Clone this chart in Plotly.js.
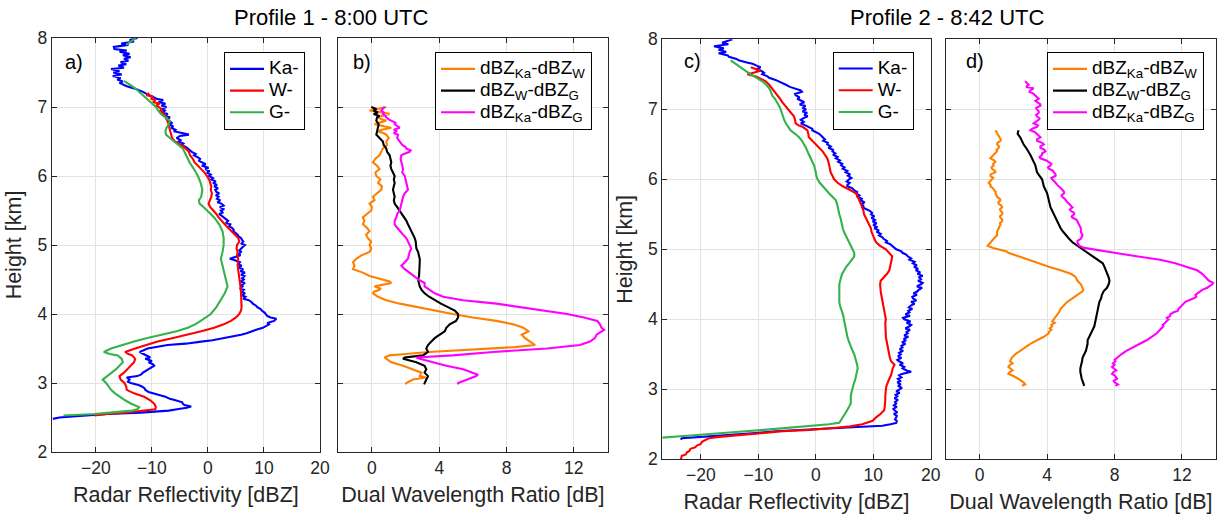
<!DOCTYPE html>
<html>
<head>
<meta charset="utf-8">
<script src="https://cdn.plot.ly/plotly-3.0.1.min.js"></script>
<style>html,body{margin:0;padding:0;background:#fff;}#chart{width:1225px;height:518px;}</style>
</head>
<body>
<div id="chart"></div>
<script>
// ---------------- DATA ----------------
// Profile 1 - 8:00 UTC, panel a) radar reflectivity [dBZ] vs height [km]
const hKa1 = [8.00,7.97,7.95,7.92,7.90,7.87,7.84,7.82,7.80,7.77,7.75,7.72,7.70,7.67,7.65,7.62,7.60,7.57,7.55,7.52,7.50,7.47,7.45,7.42,7.40,7.37,7.35,7.32,7.30,7.27,7.25,7.22,7.20,7.17,7.15,7.12,7.10,7.07,7.05,7.02,7.00,6.97,6.95,6.92,6.90,6.87,6.85,6.82,6.80,6.77,6.75,6.72,6.70,6.67,6.65,6.62,6.60,6.58,6.55,6.52,6.50,6.47,6.45,6.42,6.40,6.37,6.35,6.32,6.30,6.27,6.25,6.22,6.20,6.17,6.15,6.12,6.10,6.07,6.05,6.02,6.00,5.97,5.95,5.92,5.90,5.87,5.85,5.82,5.80,5.77,5.75,5.72,5.70,5.67,5.65,5.62,5.60,5.57,5.55,5.52,5.50,5.47,5.45,5.42,5.40,5.37,5.35,5.32,5.30,5.27,5.25,5.22,5.20,5.17,5.15,5.12,5.10,5.07,5.05,5.02,5.00,4.97,4.95,4.92,4.90,4.87,4.85,4.82,4.80,4.78,4.75,4.72,4.70,4.67,4.65,4.62,4.60,4.57,4.55,4.52,4.50,4.47,4.45,4.42,4.40,4.37,4.35,4.32,4.30,4.27,4.25,4.22,4.20,4.17,4.15,4.12,4.10,4.07,4.05,4.02,4.00,3.97,3.95,3.93,3.90,3.87,3.85,3.82,3.80,3.77,3.75,3.72,3.70,3.67,3.65,3.62,3.60,3.57,3.55,3.52,3.50,3.47,3.45,3.42,3.40,3.37,3.35,3.32,3.30,3.27,3.25,3.22,3.20,3.17,3.15,3.12,3.10,3.08,3.05,3.02,3.00,2.97,2.95,2.92,2.90,2.87,2.85,2.82,2.80,2.77,2.75,2.72,2.70,2.68,2.66,2.64,2.62,2.60,2.57,2.55,2.52,2.50,2.48];
const ka1  = [-12.6,-14.0,-13.2,-15.5,-14.2,-16.8,-16.7,-14.5,-15.8,-14.0,-15.2,-13.8,-15.0,-14.2,-15.6,-14.6,-16.0,-15.0,-17.3,-15.8,-16.9,-15.4,-17.0,-15.6,-16.2,-15.2,-15.8,-14.9,-14.5,-13.2,-12.5,-11.6,-11.2,-10.3,-9.9,-9.2,-8.0,-8.8,-7.6,-8.3,-7.4,-8.4,-7.7,-8.0,-7.2,-7.6,-6.8,-7.3,-6.9,-6.5,-7.0,-6.2,-6.6,-5.8,-6.1,-4.2,-3.4,-5.0,-5.6,-4.9,-5.2,-4.4,-4.7,-3.9,-3.6,-3.2,-2.9,-2.2,-2.5,-1.8,-1.4,-1.6,-1.0,-0.4,-1.1,0.1,-0.5,0.3,-0.2,0.5,0.2,0.9,0.6,1.4,0.9,1.6,1.1,1.8,1.3,1.5,2.0,1.4,1.9,1.6,2.2,1.7,2.4,2.8,2.1,2.9,2.3,2.6,2.0,2.5,2.7,3.3,3.6,3.2,4.0,3.8,4.3,4.6,4.5,5.0,5.3,5.5,5.9,6.1,6.3,6.0,6.6,6.2,5.9,5.6,5.9,5.5,5.8,4.7,3.9,4.8,5.7,5.4,6.0,5.5,6.3,5.8,6.6,5.9,6.5,6.1,6.4,5.8,6.6,6.0,6.2,5.7,6.4,6.1,6.6,6.0,6.7,6.3,7.3,7.8,8.0,8.6,8.8,9.4,9.6,10.1,10.3,10.6,11.2,12.2,11.8,10.6,10.9,10.2,9.8,8.6,8.0,6.9,5.9,4.0,2.4,0.8,-1.2,-4.0,-7.2,-9.4,-10.8,-11.6,-12.2,-11.5,-11.0,-10.3,-11.2,-10.0,-10.6,-9.8,-9.6,-10.2,-10.8,-11.2,-11.6,-12.0,-12.6,-14.5,-14.0,-14.3,-13.8,-12.4,-11.8,-11.3,-11.2,-10.6,-9.5,-8.4,-7.6,-6.8,-5.8,-4.6,-4.5,-4.2,-3.0,-3.8,-5.5,-7.0,-12.0,-18.0,-23.5,-26.5,-27.7];
const hW1  = [7.20,7.17,7.15,7.12,7.10,7.07,7.05,7.02,7.00,6.97,6.95,6.90,6.85,6.80,6.75,6.70,6.65,6.60,6.55,6.50,6.45,6.40,6.35,6.30,6.25,6.20,6.15,6.10,6.05,6.00,5.95,5.90,5.85,5.80,5.75,5.70,5.65,5.60,5.55,5.50,5.45,5.40,5.35,5.30,5.25,5.20,5.15,5.10,5.05,5.00,4.95,4.90,4.85,4.80,4.70,4.60,4.50,4.40,4.30,4.20,4.10,4.05,4.00,3.95,3.90,3.85,3.80,3.75,3.70,3.65,3.60,3.55,3.50,3.45,3.42,3.40,3.35,3.30,3.25,3.20,3.15,3.10,3.05,3.00,2.95,2.90,2.85,2.80,2.75,2.70,2.65,2.62,2.60,2.57,2.55,2.53];
const w1   = [-10.5,-11.0,-9.8,-10.2,-9.4,-9.8,-8.6,-9.3,-8.8,-8.3,-8.5,-7.9,-7.5,-7.2,-7.0,-6.9,-6.7,-6.6,-6.4,-5.9,-4.8,-4.0,-3.4,-3.2,-2.7,-2.4,-1.8,-1.2,-0.6,-0.2,0.2,0.4,0.6,0.5,0.7,0.6,0.4,0.1,0.4,1.0,1.5,1.9,2.4,3.0,3.6,4.2,4.8,5.4,5.6,5.2,5.1,5.3,5.2,5.4,5.3,5.5,5.6,5.8,5.9,6.0,6.0,5.9,5.6,5.0,4.1,2.8,1.1,-1.2,-3.6,-6.4,-9.0,-11.2,-13.0,-14.8,-14.2,-13.5,-13.0,-13.2,-13.8,-14.3,-15.0,-15.8,-15.6,-14.9,-14.6,-14.5,-13.2,-11.4,-10.3,-9.6,-9.3,-9.4,-11.5,-15.0,-18.0,-20.3];
// G-band profile has no valid data between about 7.9 and 7.4 km (gap = null)
const hG1  = [8.00,7.95,7.90,7.60,7.38,7.35,7.30,7.25,7.20,7.15,7.10,7.05,7.00,6.95,6.90,6.85,6.80,6.75,6.70,6.65,6.60,6.55,6.50,6.45,6.40,6.30,6.20,6.10,6.00,5.90,5.80,5.75,5.70,5.65,5.60,5.55,5.50,5.45,5.40,5.30,5.20,5.10,5.00,4.90,4.80,4.70,4.60,4.50,4.40,4.30,4.20,4.10,4.00,3.95,3.90,3.85,3.80,3.75,3.70,3.65,3.60,3.55,3.50,3.45,3.42,3.40,3.35,3.30,3.25,3.20,3.15,3.10,3.05,3.00,2.95,2.90,2.85,2.80,2.75,2.70,2.65,2.62,2.60,2.57,2.55,2.53];
const g1   = [-12.9,-13.8,-14.6,null,-15.0,-14.4,-13.5,-12.7,-12.0,-11.4,-10.8,-10.0,-9.3,-8.9,-8.4,-7.6,-6.8,-7.0,-7.4,-7.6,-7.5,-6.8,-6.0,-5.2,-4.5,-3.9,-3.3,-2.5,-1.8,-1.3,-1.0,-1.1,-1.2,-1.6,-1.5,-0.8,-0.1,0.5,1.1,2.0,2.6,2.8,2.8,2.6,2.3,2.6,2.9,3.2,3.5,3.0,2.3,1.5,0.5,-0.3,-1.3,-2.3,-3.6,-5.6,-8.4,-11.0,-13.2,-15.5,-17.3,-18.6,-17.5,-16.1,-15.4,-15.2,-15.8,-16.4,-17.2,-17.9,-18.8,-18.2,-17.8,-17.3,-16.6,-15.8,-14.8,-13.7,-12.3,-12.6,-13.5,-17.5,-20.3,-25.8];

// Profile 1, panel b) dual wavelength ratio [dB] vs height [km]
const hKaW1 = [7.00,6.97,6.95,6.92,6.90,6.87,6.85,6.82,6.80,6.77,6.75,6.72,6.70,6.67,6.65,6.62,6.60,6.55,6.50,6.45,6.40,6.35,6.30,6.25,6.20,6.15,6.10,6.05,6.00,5.95,5.90,5.85,5.80,5.75,5.70,5.65,5.60,5.55,5.50,5.45,5.40,5.35,5.30,5.25,5.20,5.15,5.10,5.05,5.00,4.95,4.90,4.85,4.80,4.75,4.70,4.65,4.62,4.60,4.55,4.50,4.47,4.45,4.42,4.40,4.37,4.35,4.32,4.30,4.25,4.20,4.15,4.10,4.05,4.00,3.95,3.90,3.85,3.80,3.75,3.70,3.65,3.60,3.55,3.52,3.50,3.47,3.45,3.42,3.40,3.37,3.35,3.30,3.25,3.20,3.15,3.10,3.08,3.05,3.02,3.00,2.98];
const kaW1  = [0.85,0.3,-0.14,0.6,1.05,0.6,0.36,0.6,0.85,0.4,0.16,0.7,1.15,0.6,0.36,0.7,0.85,1.0,0.85,0.9,0.65,0.55,0.45,0.2,0.06,0.3,0.45,0.2,0.26,0.5,0.36,0.6,0.55,0.3,0.06,0.15,-0.14,0.0,-0.04,-0.3,-0.54,-0.45,-0.54,-0.3,-0.14,-0.35,-0.24,-0.05,-0.14,-0.04,-0.14,-0.63,-0.93,-1.13,-1.03,-1.13,-0.8,-0.54,-0.14,0.65,1.05,1.15,0.6,0.16,0.5,0.45,0.1,0.06,0.36,0.85,1.65,2.64,3.63,4.8,6.0,7.4,8.4,9.0,9.3,8.9,9.1,9.4,9.7,8.5,6.8,5.0,3.4,2.0,1.05,0.75,0.85,1.15,1.85,2.44,2.94,2.84,3.2,2.44,2.2,2.04,2.0];
const hWG1  = [7.00,6.97,6.95,6.92,6.90,6.87,6.85,6.80,6.75,6.70,6.65,6.60,6.55,6.50,6.45,6.40,6.35,6.30,6.25,6.20,6.15,6.10,6.05,6.00,5.95,5.90,5.85,5.80,5.75,5.70,5.65,5.60,5.55,5.50,5.45,5.40,5.35,5.30,5.25,5.20,5.15,5.10,5.05,5.00,4.95,4.90,4.85,4.80,4.75,4.70,4.65,4.60,4.55,4.50,4.45,4.40,4.35,4.30,4.25,4.20,4.15,4.10,4.05,4.00,3.95,3.90,3.85,3.80,3.75,3.70,3.65,3.60,3.55,3.50,3.45,3.40,3.37,3.35,3.30,3.25,3.20,3.15,3.10,3.05,3.00,2.98];
const wG1   = [-0.04,0.26,0.1,0.35,0.1,0.45,0.3,0.26,0.4,0.36,0.3,0.26,0.45,0.65,0.7,0.85,0.9,1.05,1.1,1.15,1.1,1.15,1.25,1.35,1.3,1.35,1.3,1.25,1.3,1.35,1.3,1.35,1.5,1.65,1.8,1.95,2.05,2.14,2.25,2.34,2.45,2.54,2.6,2.64,2.64,2.74,2.8,2.84,2.84,2.84,2.8,2.84,2.8,2.74,2.8,2.84,2.95,3.13,3.4,3.73,4.1,4.52,4.92,5.12,5.12,5.0,4.62,4.42,4.33,4.03,3.73,3.53,3.33,3.23,3.33,3.04,1.94,1.85,2.64,3.13,3.23,3.13,3.33,3.23,3.13,3.1];
const hKaG1 = [7.00,6.97,6.95,6.92,6.90,6.87,6.85,6.82,6.80,6.77,6.75,6.72,6.70,6.67,6.65,6.62,6.60,6.55,6.50,6.45,6.42,6.40,6.37,6.35,6.32,6.30,6.25,6.20,6.15,6.10,6.05,6.00,5.95,5.90,5.85,5.80,5.75,5.70,5.65,5.60,5.55,5.50,5.45,5.40,5.35,5.30,5.25,5.20,5.15,5.10,5.05,5.00,4.95,4.90,4.85,4.80,4.75,4.70,4.65,4.60,4.55,4.50,4.45,4.40,4.35,4.30,4.25,4.20,4.15,4.10,4.05,4.00,3.95,3.90,3.85,3.80,3.77,3.75,3.70,3.65,3.60,3.55,3.50,3.45,3.40,3.37,3.35,3.30,3.25,3.20,3.15,3.12,3.10,3.05,3.00,2.98];
const kaG1  = [0.75,0.6,0.55,0.7,0.65,0.8,0.85,1.0,1.15,1.4,1.35,1.55,1.65,1.3,1.45,1.3,1.55,1.5,1.65,1.8,2.0,2.04,2.3,2.24,1.9,1.75,1.7,1.75,1.8,1.85,1.8,1.95,2.0,2.05,2.1,2.14,1.95,1.85,1.8,1.75,1.7,1.65,1.5,1.45,1.35,1.35,1.5,1.65,1.85,2.04,2.15,2.24,2.34,2.24,2.2,2.14,1.95,1.75,1.95,2.24,2.5,2.74,3.13,3.13,3.43,3.73,4.23,5.42,7.4,8.8,10.4,11.6,12.6,13.4,13.55,13.65,13.8,13.65,13.35,13.25,12.96,12.36,10.4,7.2,4.8,2.64,2.84,3.63,4.42,5.42,5.9,6.3,6.2,5.6,5.12,5.1];

// Profile 2 - 8:42 UTC, panel c) radar reflectivity [dBZ]
const hKa2 = [8.00,7.97,7.95,7.93,7.90,7.87,7.85,7.82,7.80,7.77,7.75,7.72,7.70,7.67,7.65,7.62,7.60,7.57,7.55,7.52,7.50,7.47,7.45,7.42,7.40,7.37,7.35,7.32,7.30,7.27,7.25,7.22,7.20,7.17,7.15,7.12,7.10,7.07,7.05,7.02,7.00,6.97,6.95,6.92,6.90,6.87,6.85,6.82,6.80,6.77,6.75,6.72,6.70,6.67,6.65,6.62,6.60,6.57,6.55,6.52,6.50,6.47,6.45,6.42,6.40,6.37,6.35,6.32,6.30,6.27,6.25,6.22,6.20,6.17,6.15,6.12,6.10,6.07,6.05,6.02,6.00,5.97,5.95,5.92,5.90,5.87,5.85,5.82,5.80,5.77,5.75,5.72,5.70,5.67,5.65,5.62,5.60,5.57,5.55,5.52,5.50,5.47,5.45,5.42,5.40,5.37,5.35,5.32,5.30,5.27,5.25,5.22,5.20,5.17,5.15,5.12,5.10,5.07,5.05,5.02,5.00,4.97,4.95,4.92,4.90,4.87,4.85,4.82,4.80,4.77,4.75,4.72,4.70,4.67,4.65,4.62,4.60,4.57,4.55,4.52,4.50,4.47,4.45,4.42,4.40,4.37,4.35,4.32,4.30,4.27,4.25,4.22,4.20,4.17,4.15,4.12,4.10,4.07,4.05,4.02,4.00,3.97,3.95,3.92,3.90,3.87,3.85,3.82,3.80,3.77,3.75,3.72,3.70,3.67,3.65,3.62,3.60,3.57,3.55,3.52,3.50,3.47,3.45,3.42,3.40,3.37,3.35,3.32,3.30,3.27,3.25,3.22,3.20,3.17,3.15,3.12,3.10,3.07,3.05,3.02,3.00,2.97,2.95,2.92,2.90,2.87,2.85,2.82,2.80,2.77,2.75,2.72,2.70,2.67,2.65,2.62,2.60,2.57,2.55,2.52,2.50,2.48,2.45,2.42,2.40,2.37,2.35,2.32,2.30,2.28];
const ka2  = [-14.5,-15.4,-16.3,-15.2,-17.7,-16.0,-16.9,-15.6,-16.9,-15.3,-15.1,-13.8,-13.4,-12.0,-11.0,-10.2,-9.6,-10.4,-9.5,-9.0,-9.3,-8.4,-8.1,-7.0,-6.4,-5.8,-5.2,-4.5,-3.8,-2.6,-2.4,-3.6,-3.5,-2.8,-3.2,-2.4,-2.0,-2.8,-1.8,-2.2,-1.7,-2.3,-1.5,-2.0,-1.4,-2.2,-2.6,-2.1,-2.6,-1.8,-1.3,-0.6,-0.6,0.3,0.6,1.0,1.2,1.6,1.3,2.1,2.0,2.6,2.2,3.0,2.9,3.4,3.0,3.8,3.5,4.2,3.9,4.6,4.4,5.0,4.7,5.5,5.2,6.0,5.6,6.2,5.8,5.4,5.9,5.5,5.5,6.4,6.6,7.2,7.0,7.6,7.3,8.0,7.8,8.5,8.0,8.3,8.1,9.1,9.4,9.8,9.6,10.2,9.7,10.3,9.9,10.6,10.0,10.6,10.2,11.0,10.6,11.3,11.0,11.6,11.8,12.4,12.2,13.0,13.3,13.8,14.0,14.9,15.1,15.8,16.0,16.6,16.3,17.2,16.9,17.6,17.1,17.8,17.4,18.2,17.7,18.6,18.0,18.3,17.8,18.6,18.3,17.6,18.5,17.9,17.7,17.0,17.6,16.8,16.9,17.5,16.6,17.2,16.6,16.2,16.8,16.1,16.3,15.6,16.4,15.2,15.4,16.5,15.8,16.6,16.3,15.6,16.4,15.8,16.0,15.4,16.1,15.3,15.7,15.0,15.6,14.9,15.1,14.6,15.2,14.5,14.8,14.3,14.9,14.2,14.5,15.2,14.6,15.4,15.1,15.8,16.6,15.0,14.5,14.9,14.3,14.7,14.2,14.8,14.3,15.0,14.5,14.0,14.6,13.9,14.2,13.7,14.3,13.8,14.0,13.6,14.1,13.5,13.7,14.2,13.6,14.1,14.0,13.8,14.1,14.0,13.0,11.6,4.7,-2.0,-7.0,-11.0,-14.5,-19.0,-23.3,-23.5];
const hW2  = [7.60,7.57,7.55,7.52,7.50,7.47,7.45,7.42,7.40,7.35,7.30,7.25,7.20,7.15,7.10,7.05,7.00,6.95,6.90,6.85,6.80,6.77,6.75,6.72,6.70,6.65,6.60,6.55,6.50,6.45,6.40,6.35,6.30,6.25,6.20,6.15,6.10,6.05,6.00,5.95,5.90,5.85,5.80,5.75,5.70,5.65,5.60,5.55,5.50,5.45,5.40,5.35,5.30,5.25,5.20,5.15,5.10,5.05,5.00,4.95,4.90,4.85,4.80,4.75,4.70,4.65,4.60,4.55,4.50,4.45,4.40,4.35,4.30,4.25,4.20,4.15,4.10,4.05,4.00,3.95,3.90,3.85,3.80,3.75,3.70,3.65,3.60,3.55,3.50,3.45,3.40,3.35,3.30,3.25,3.20,3.15,3.10,3.05,3.00,2.95,2.90,2.85,2.80,2.75,2.70,2.65,2.60,2.55,2.50,2.47,2.45,2.42,2.40,2.37,2.35,2.32,2.30,2.28,2.25,2.22,2.20,2.17,2.15,2.12,2.10,2.07,2.05,2.02,2.00];
const w2   = [-11.3,-10.3,-9.6,-11.0,-11.9,-10.4,-9.9,-9.2,-8.7,-8.1,-7.6,-7.1,-6.7,-6.2,-5.8,-5.3,-4.9,-4.4,-3.8,-3.6,-3.5,-3.0,-2.3,-1.8,-1.45,-1.3,-1.2,-0.6,0.0,0.6,1.2,1.6,2.0,2.2,2.3,2.4,2.6,2.9,3.2,3.8,4.7,5.9,7.0,7.3,7.6,7.9,8.1,8.3,8.4,8.7,9.0,9.3,9.6,9.7,9.9,10.2,10.5,11.2,12.2,12.8,13.3,13.2,13.1,13.0,12.8,12.4,11.9,11.3,11.2,11.2,11.3,11.4,11.5,11.6,11.7,11.8,11.9,12.0,12.2,12.1,12.1,12.2,12.2,12.2,12.3,12.4,12.5,12.6,12.8,12.9,13.1,13.7,13.4,13.3,13.1,12.8,12.5,12.3,12.2,12.1,12.1,12.1,12.1,12.0,11.9,11.3,10.5,9.9,8.1,6.0,3.5,-1.0,-5.8,-10.0,-14.0,-16.8,-18.6,-19.2,-19.8,-20.0,-20.6,-21.0,-21.8,-22.0,-22.4,-22.6,-23.3,-23.4,-23.5];
const hG2  = [7.70,7.65,7.60,7.55,7.50,7.45,7.40,7.35,7.30,7.25,7.20,7.15,7.10,7.05,7.00,6.95,6.90,6.85,6.80,6.75,6.70,6.65,6.60,6.55,6.50,6.45,6.40,6.35,6.30,6.25,6.20,6.15,6.10,6.05,6.00,5.95,5.90,5.85,5.80,5.75,5.70,5.65,5.60,5.55,5.50,5.45,5.40,5.35,5.30,5.25,5.20,5.15,5.10,5.05,5.00,4.95,4.90,4.85,4.80,4.75,4.70,4.65,4.60,4.55,4.50,4.45,4.40,4.35,4.30,4.25,4.20,4.15,4.10,4.05,4.00,3.95,3.90,3.85,3.80,3.75,3.70,3.65,3.60,3.55,3.50,3.45,3.40,3.35,3.30,3.25,3.20,3.15,3.10,3.05,3.00,2.95,2.90,2.85,2.80,2.75,2.70,2.65,2.60,2.55,2.52,2.50,2.47,2.45,2.42,2.40,2.37,2.35,2.33,2.31];
const g2   = [-14.8,-14.0,-13.1,-12.2,-11.3,-10.2,-9.3,-8.6,-8.1,-7.8,-7.6,-7.1,-6.7,-6.4,-6.1,-5.9,-5.8,-5.5,-5.2,-4.8,-4.4,-3.6,-2.9,-2.4,-2.0,-1.7,-1.45,-1.2,-0.9,-0.6,-0.3,-0.1,0.0,0.1,0.3,0.7,1.2,1.7,2.3,2.9,3.5,3.7,3.8,4.0,4.1,4.3,4.4,4.5,4.7,4.9,5.2,5.5,5.8,6.1,6.4,6.7,6.7,6.3,5.8,5.3,4.9,4.6,4.4,4.2,4.1,4.1,4.1,4.0,4.0,4.1,4.2,4.4,4.7,4.8,4.9,5.0,5.2,5.25,5.3,5.5,5.7,5.9,6.1,6.4,6.7,6.9,7.1,7.2,7.3,7.2,7.0,6.9,6.7,6.5,6.3,6.2,6.1,6.1,6.1,5.8,5.5,5.1,4.7,4.4,4.1,2.3,-1.5,-4.7,-9.0,-12.2,-16.5,-20.3,-23.5,-26.7];

// Profile 2, panel d) dual wavelength ratio [dB]
const hKaW2 = [6.70,6.67,6.65,6.62,6.60,6.57,6.55,6.52,6.50,6.47,6.45,6.42,6.40,6.37,6.35,6.32,6.30,6.27,6.25,6.22,6.20,6.17,6.15,6.12,6.10,6.07,6.05,6.02,6.00,5.97,5.95,5.92,5.90,5.87,5.85,5.82,5.80,5.77,5.75,5.72,5.70,5.67,5.65,5.62,5.60,5.57,5.55,5.52,5.50,5.47,5.45,5.42,5.40,5.37,5.35,5.32,5.30,5.25,5.20,5.15,5.10,5.07,5.05,5.02,5.00,4.97,4.95,4.90,4.85,4.80,4.75,4.70,4.65,4.62,4.60,4.55,4.50,4.45,4.42,4.40,4.35,4.30,4.25,4.20,4.15,4.10,4.05,4.00,3.97,3.95,3.92,3.90,3.87,3.85,3.82,3.80,3.75,3.70,3.65,3.60,3.55,3.50,3.45,3.42,3.40,3.37,3.35,3.32,3.30,3.27,3.25,3.22,3.20,3.15,3.10,3.07,3.05];
const kaW2  = [0.93,1.0,1.03,1.1,1.13,1.25,1.23,1.05,1.03,1.15,1.13,1.0,1.03,0.9,0.83,0.7,0.63,0.85,0.93,0.8,0.83,0.7,0.73,0.9,0.93,0.65,0.63,0.8,0.73,0.6,0.53,0.65,0.63,0.8,0.83,0.95,0.93,1.0,1.03,1.2,1.23,1.1,1.13,1.3,1.33,1.2,1.23,1.35,1.33,1.2,1.23,1.35,1.33,1.2,1.23,1.15,1.13,1.03,1.03,0.83,0.63,0.5,0.47,0.8,1.13,1.6,1.7,2.3,2.9,3.4,4.1,4.8,5.4,5.6,5.7,5.8,6.0,6.1,6.15,6.1,5.8,5.5,5.2,5.0,4.8,4.7,4.55,4.43,4.3,4.45,4.25,4.3,4.15,4.25,4.1,4.1,3.8,3.4,3.0,2.7,2.4,2.1,1.9,1.85,1.8,1.95,1.8,1.7,1.8,1.95,1.8,1.7,1.9,2.3,2.6,2.7,2.5];
const hWG2  = [6.70,6.65,6.60,6.55,6.50,6.45,6.40,6.35,6.30,6.25,6.20,6.15,6.10,6.05,6.00,5.95,5.90,5.85,5.80,5.75,5.70,5.65,5.60,5.55,5.50,5.45,5.40,5.35,5.30,5.25,5.20,5.15,5.10,5.05,5.00,4.95,4.90,4.85,4.80,4.75,4.70,4.65,4.60,4.55,4.50,4.45,4.40,4.35,4.30,4.25,4.20,4.15,4.10,4.05,4.00,3.95,3.90,3.85,3.80,3.75,3.70,3.65,3.60,3.55,3.50,3.45,3.40,3.35,3.30,3.25,3.20,3.15,3.10,3.05];
const wG2   = [2.3,2.25,2.4,2.5,2.6,2.75,2.9,3.0,3.1,3.2,3.3,3.35,3.4,3.55,3.7,3.75,3.8,3.9,4.0,4.05,4.1,4.15,4.2,4.3,4.4,4.5,4.6,4.7,4.8,4.95,5.1,5.3,5.5,5.8,6.1,6.4,6.7,7.0,7.3,7.4,7.5,7.55,7.65,7.7,7.65,7.55,7.35,7.25,7.2,7.1,7.06,7.03,7.0,6.95,6.9,6.85,6.8,6.7,6.6,6.5,6.4,6.4,6.37,6.3,6.2,6.1,6.07,6.0,5.97,5.97,6.0,6.05,6.13,6.2];
const hKaG2 = [7.40,7.37,7.35,7.32,7.30,7.27,7.25,7.22,7.20,7.17,7.15,7.12,7.10,7.07,7.05,7.02,7.00,6.97,6.95,6.92,6.90,6.87,6.85,6.82,6.80,6.77,6.75,6.72,6.70,6.67,6.65,6.62,6.60,6.57,6.55,6.52,6.50,6.47,6.45,6.42,6.40,6.37,6.35,6.32,6.30,6.27,6.25,6.22,6.20,6.17,6.15,6.12,6.10,6.07,6.05,6.02,6.00,5.97,5.95,5.92,5.90,5.87,5.85,5.82,5.80,5.77,5.75,5.72,5.70,5.67,5.65,5.62,5.60,5.57,5.55,5.52,5.50,5.47,5.45,5.42,5.40,5.37,5.35,5.32,5.30,5.25,5.20,5.15,5.12,5.10,5.07,5.05,5.02,5.00,4.97,4.95,4.90,4.85,4.80,4.75,4.70,4.65,4.60,4.55,4.52,4.50,4.47,4.45,4.42,4.40,4.37,4.35,4.32,4.30,4.25,4.20,4.15,4.12,4.10,4.07,4.05,4.02,4.00,3.95,3.92,3.90,3.85,3.80,3.75,3.70,3.65,3.60,3.55,3.50,3.45,3.42,3.40,3.37,3.35,3.32,3.30,3.27,3.25,3.22,3.20,3.17,3.15,3.12,3.10,3.07,3.05];
const kaG2  = [2.7,2.8,2.9,2.75,3.2,3.0,2.95,3.2,3.3,3.45,3.5,3.3,3.4,3.6,3.6,3.35,3.4,3.5,3.5,3.35,3.4,3.55,3.5,3.3,3.2,3.45,3.4,3.1,3.0,3.3,3.4,3.55,3.6,3.4,3.4,3.7,3.8,3.6,3.6,3.85,3.9,3.7,3.7,3.55,3.6,3.95,4.1,4.25,4.2,4.05,4.1,4.35,4.4,4.5,4.5,4.25,4.3,4.45,4.5,4.6,4.7,4.85,4.9,5.0,5.0,4.85,4.9,5.05,5.1,5.2,5.3,5.45,5.5,5.35,5.4,5.6,5.6,5.45,5.5,5.75,5.8,5.85,5.9,6.0,6.0,6.0,6.1,6.0,5.8,5.8,5.85,5.9,6.2,6.8,7.6,8.0,9.3,10.7,11.6,12.3,12.9,13.2,13.4,13.6,13.85,13.8,13.6,13.5,13.2,13.1,12.9,12.8,12.85,12.7,12.2,12.0,11.8,11.75,11.5,11.3,11.3,11.1,11.2,11.0,10.85,10.9,10.7,10.5,10.2,9.9,9.5,9.1,8.7,8.4,8.15,8.0,8.05,7.9,8.0,7.85,7.95,8.1,7.95,7.85,8.0,8.1,8.15,7.95,8.0,8.2,8.05];

// Labels
const seriesZ = ['Ka-', 'W-', 'G-'];
const seriesDWR = ['dBZ<sub>Ka</sub>-dBZ<sub>W</sub>', 'dBZ<sub>W</sub>-dBZ<sub>G</sub>', 'dBZ<sub>Ka</sub>-dBZ<sub>G</sub>'];
const profileTitles = ['Profile 1 - 8:00 UTC', 'Profile 2 - 8:42 UTC'];
const panelLabels = ['a)', 'b)', 'c)', 'd)'];
const zTicks = [-20, -10, 0, 10, 20];
const dwrTicks = [0, 4, 8, 12];
const hTicks = [2, 3, 4, 5, 6, 7, 8];

// ---------------- STYLE ----------------
const W = 1225, H = 518;
const FONT = 'Liberation Sans, Arial, Helvetica, sans-serif';
const DARK = '#262626';
const px = v => v / W;
const py = v => 1 - v / H;
const cZ = ['#0000ff', '#ff0000', '#33b34a'];
const cD = ['#ff8000', '#000000', '#ff00ff'];
const LEG_TEXT = 19;   // rendered legend text size
const big = s => '<span style="font-size:' + LEG_TEXT + 'px">' + s + '</span>';

function tr(x, y, name, color, xa, ya, leg) {
  return {x: x, y: y, name: big(name), type: 'scatter', mode: 'lines',
          line: {color: color, width: 2.1}, xaxis: xa, yaxis: ya, legend: leg, hoverinfo: 'skip'};
}
const data = [
  tr(ka1, hKa1, seriesZ[0], cZ[0], 'x', 'y', 'legend'),
  tr(w1, hW1, seriesZ[1], cZ[1], 'x', 'y', 'legend'),
  tr(g1, hG1, seriesZ[2], cZ[2], 'x', 'y', 'legend'),
  tr(kaW1, hKaW1, seriesDWR[0], cD[0], 'x2', 'y2', 'legend2'),
  tr(wG1, hWG1, seriesDWR[1], cD[1], 'x2', 'y2', 'legend2'),
  tr(kaG1, hKaG1, seriesDWR[2], cD[2], 'x2', 'y2', 'legend2'),
  tr(ka2, hKa2, seriesZ[0], cZ[0], 'x3', 'y3', 'legend3'),
  tr(w2, hW2, seriesZ[1], cZ[1], 'x3', 'y3', 'legend3'),
  tr(g2, hG2, seriesZ[2], cZ[2], 'x3', 'y3', 'legend3'),
  tr(kaW2, hKaW2, seriesDWR[0], cD[0], 'x4', 'y4', 'legend4'),
  tr(wG2, hWG2, seriesDWR[1], cD[1], 'x4', 'y4', 'legend4'),
  tr(kaG2, hKaG2, seriesDWR[2], cD[2], 'x4', 'y4', 'legend4')
];

function ax(extra) {
  return Object.assign({
    showline: true, linecolor: DARK, linewidth: 1, mirror: 'ticks',
    ticks: 'inside', ticklen: 5, tickcolor: DARK, tickwidth: 1,
    showgrid: true, gridcolor: '#e3e3e3', gridwidth: 1, zeroline: false,
    tickfont: {family: FONT, size: 17.5, color: DARK}, fixedrange: true
  }, extra);
}
const titleFont = {family: FONT, size: 21.5, color: DARK};
const yTop1 = 38, yBot1 = 452, yTop2 = 39.3, yBot2 = 459.3;

function leg(x, y) {
  return {x: px(x), y: py(y), xanchor: 'left', yanchor: 'top', xref: 'paper', yref: 'paper',
          bgcolor: '#ffffff', bordercolor: '#000000', borderwidth: 1,
          font: {family: FONT, size: 14.4, color: '#000000'}, tracegroupgap: 0, itemwidth: 34};
}

const layout = {
  width: W, height: H, margin: {l: 0, r: 0, t: 0, b: 0},
  paper_bgcolor: '#ffffff', plot_bgcolor: '#ffffff', showlegend: true,
  font: {family: FONT, color: DARK},
  xaxis: ax({domain: [px(51.7), px(320)], range: [-27.9, 20], tickvals: zTicks, anchor: 'y',
             title: {text: 'Radar Reflectivity [dBZ]', font: titleFont, standoff: 9}}),
  yaxis: ax({domain: [py(yBot1), py(yTop1)], range: [2, 8], tickvals: hTicks, anchor: 'x',
             title: {text: 'Height [km]', font: titleFont, standoff: 9}}),
  xaxis2: ax({domain: [px(338.3), px(607.5)], range: [-2, 14], tickvals: dwrTicks, anchor: 'y2',
             title: {text: 'Dual Wavelength Ratio [dB]', font: titleFont, standoff: 9}}),
  yaxis2: ax({domain: [py(yBot1), py(yTop1)], range: [2, 8], tickvals: hTicks, anchor: 'x2', showticklabels: false}),
  xaxis3: ax({domain: [px(662.3), px(930.7)], range: [-26.7, 20], tickvals: zTicks, anchor: 'y3',
             title: {text: 'Radar Reflectivity [dBZ]', font: titleFont, standoff: 9}}),
  yaxis3: ax({domain: [py(yBot2), py(yTop2)], range: [2, 8], tickvals: hTicks, anchor: 'x3',
             title: {text: 'Height [km]', font: titleFont, standoff: 9}}),
  xaxis4: ax({domain: [px(946), px(1215.7)], range: [-2, 14], tickvals: dwrTicks, anchor: 'y4',
             title: {text: 'Dual Wavelength Ratio [dB]', font: titleFont, standoff: 9}}),
  yaxis4: ax({domain: [py(yBot2), py(yTop2)], range: [2, 8], tickvals: hTicks, anchor: 'x4', showticklabels: false}),
  legend: leg(224, 52),
  legend2: leg(435, 52),
  legend3: leg(832.7, 51.7),
  legend4: leg(1047, 52),
  annotations: [
    {text: profileTitles[0], x: px(332), y: py(17), xref: 'paper', yref: 'paper', showarrow: false,
     xanchor: 'center', yanchor: 'middle', font: {family: FONT, size: 22, color: '#000000'}},
    {text: profileTitles[1], x: px(948), y: py(17), xref: 'paper', yref: 'paper', showarrow: false,
     xanchor: 'center', yanchor: 'middle', font: {family: FONT, size: 22, color: '#000000'}},
    {text: panelLabels[0], x: px(63), y: py(62), xref: 'paper', yref: 'paper', showarrow: false,
     xanchor: 'left', yanchor: 'middle', font: {family: FONT, size: 20, color: '#000000'}},
    {text: panelLabels[1], x: px(351), y: py(62), xref: 'paper', yref: 'paper', showarrow: false,
     xanchor: 'left', yanchor: 'middle', font: {family: FONT, size: 20, color: '#000000'}},
    {text: panelLabels[2], x: px(682), y: py(61), xref: 'paper', yref: 'paper', showarrow: false,
     xanchor: 'left', yanchor: 'middle', font: {family: FONT, size: 20, color: '#000000'}},
    {text: panelLabels[3], x: px(964), y: py(61), xref: 'paper', yref: 'paper', showarrow: false,
     xanchor: 'left', yanchor: 'middle', font: {family: FONT, size: 20, color: '#000000'}}
  ]
};

Plotly.newPlot('chart', data, layout, {staticPlot: true, displayModeBar: false});
</script>
</body>
</html>
